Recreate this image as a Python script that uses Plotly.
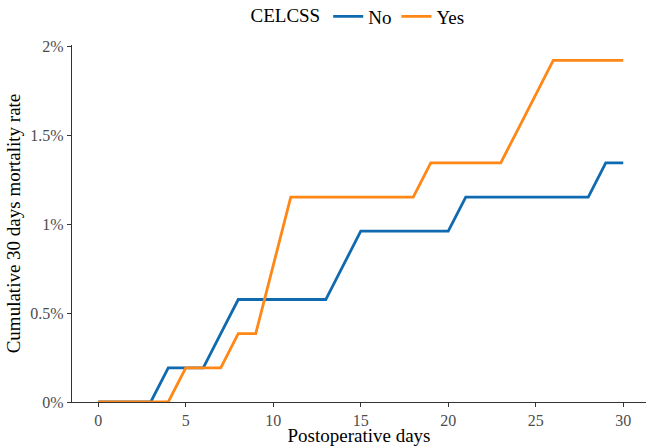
import plotly.graph_objects as go

days = list(range(0, 31))
no_rate = [0, 0, 0, 0, 0.192, 0.192, 0.192, 0.385, 0.577, 0.577,
           0.577, 0.577, 0.577, 0.577, 0.769, 0.962, 0.962, 0.962, 0.962, 0.962,
           0.962, 1.154, 1.154, 1.154, 1.154, 1.154, 1.154, 1.154, 1.154, 1.346, 1.346]
yes_rate = [0, 0, 0, 0, 0, 0.192, 0.192, 0.192, 0.385, 0.385,
            0.769, 1.154, 1.154, 1.154, 1.154, 1.154, 1.154, 1.154, 1.154, 1.346,
            1.346, 1.346, 1.346, 1.346, 1.538, 1.731, 1.923, 1.923, 1.923, 1.923, 1.923]
x_ticks = [0, 5, 10, 15, 20, 25, 30]
y_ticks = [0, 0.5, 1, 1.5, 2]
y_labels = ["0%", "0.5%", "1%", "1.5%", "2%"]

font = "Liberation Serif, Times New Roman, serif"

fig = go.Figure()
fig.add_trace(go.Scatter(x=days, y=no_rate, mode="lines", name="No",
                         line=dict(color="#0F6AAF", width=2.8)))
fig.add_trace(go.Scatter(x=days, y=yes_rate, mode="lines", name="Yes",
                         line=dict(color="#FF8716", width=2.8)))

fig.update_layout(
    width=646, height=446,
    margin=dict(l=72, r=0, t=45, b=44, autoexpand=False),
    plot_bgcolor="white", paper_bgcolor="white",
    font=dict(family=font, color="black"),
    showlegend=True,
    legend=dict(orientation="h", x=0.5, xanchor="center", y=1.08, yanchor="middle",
                title=dict(text="CELCSS", font=dict(size=19, color="black")),
                font=dict(size=19, color="black"), itemwidth=30,
                tracegroupgap=0),
    xaxis=dict(range=[-1.5, 31.3], tickvals=x_ticks, ticks="outside", ticklen=4,
               tickcolor="#333333", showline=True, linecolor="#333333", linewidth=1.2,
               showgrid=False, zeroline=False, automargin=False,
               tickfont=dict(size=16, color="#4D4D4D", family=font),
               title=dict(text="Postoperative days", font=dict(size=19, color="black"),
                          standoff=3)),
    yaxis=dict(range=[0, 2.01], tickvals=y_ticks, ticktext=y_labels, ticks="outside",
               ticklen=4, tickcolor="#333333", showline=True, linecolor="#333333",
               linewidth=1.2, showgrid=False, zeroline=False, automargin=False,
               tickfont=dict(size=16, color="#4D4D4D", family=font),
               title=dict(text="Cumulative 30 days mortality rate",
                          font=dict(size=19, color="black"), standoff=4)),
)

fig.write_html("out.html", config={"displayModeBar": False},
               post_script="document.body.style.margin='0';document.body.style.overflow='hidden';")
